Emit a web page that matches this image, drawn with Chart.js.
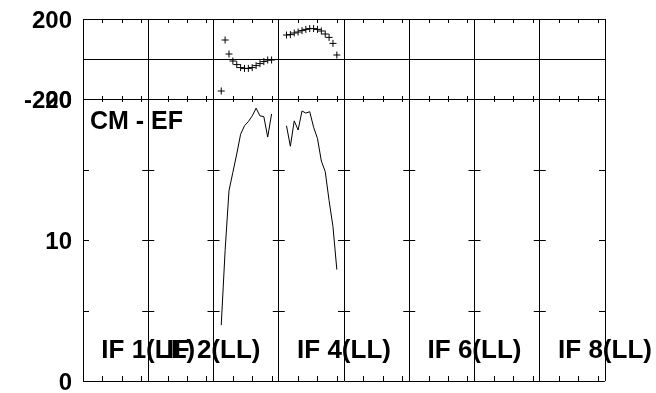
<!DOCTYPE html>
<html><head><meta charset="utf-8">
<script src="https://cdn.jsdelivr.net/npm/chart.js@4"></script>
<style>html,body{margin:0;padding:0;background:#fff}canvas{display:block}</style>
</head><body>
<canvas id="c" width="656" height="393"></canvas>
<script>
// ---- data ----
const numIFs = 8;
const chansPerIF = 16.85;
const channels = [2, 3, 4, 5, 6, 7, 8, 9, 10, 11, 12, 13, 14, 15];
const phaseIF3 = [-160, 95, 25, -10, -28, -43, -47, -47, -43, -33, -23, -13, -5, -5];
const phaseIF4 = [120, 122, 130, 135, 142, 148, 152, 152, 148, 140, 125, 108, 78, 20];
const ampIF3 = [3.96, 9.26, 13.5, 14.8, 16.1, 17.5, 18.1, 18.4, 18.8, 19.35, 18.8, 18.75, 17.3, 18.94];
const ampIF4 = [18.1, 16.65, 18.45, 17.8, 19.15, 19.0, 19.1, 18.0, 17.2, 15.6, 14.85, 12.8, 10.95, 7.9];
const ifLabels = ["IF 1(LL)", "IF 2(LL)", "IF 4(LL)", "IF 6(LL)", "IF 8(LL)"];
const ifLabelPos = [1, 2, 4, 6, 8];
const phaseTicks = [-200, 0, 200];
const phaseLabeled = [-200, 200];
const ampTicks = [0, 5, 10, 15, 20];
const ampLabeled = [0, 10, 20];
const chanTicks = [5, 10, 15];
const panelTitle = "CM - EF";

const FONT = '"Liberation Sans", Arial, Helvetica, sans-serif';
const toPts = (ifNum, vals) => vals.map((v, i) => ({x: (ifNum - 1) * chansPerIF + channels[i], y: v}));

const deco = {
  id: 'deco',
  afterDraw(chart) {
    const {ctx, chartArea: a, scales} = chart;
    const x = scales.x, yAmp = scales.yAmp;
    ctx.save();
    ctx.strokeStyle = '#000';
    ctx.lineWidth = 1;
    const seg = (x1, y1, x2, y2) => { ctx.beginPath(); ctx.moveTo(x1, y1); ctx.lineTo(x2, y2); ctx.stroke(); };
    const mid = Math.round(yAmp.top);
    for (let k = 0; k < numIFs; k++) {
      for (const t of chanTicks) {
        const px = Math.round(x.getPixelForValue(k * chansPerIF + t)) + 0.5;
        seg(px, a.top, px, a.top + 4);
        seg(px, mid - 3, px, mid + 3);
        seg(px, a.bottom - 5, px, a.bottom);
      }
    }
    for (const v of ampTicks) {
      if (v === yAmp.min || v === yAmp.max) continue;
      const py = Math.round(yAmp.getPixelForValue(v)) + 0.5;
      for (let k = 0; k <= numIFs; k++) {
        const px = x.getPixelForValue(k * chansPerIF);
        seg(Math.max(a.left, px - 6), py, Math.min(a.right, px + 6), py);
      }
    }
    ctx.fillStyle = '#000';
    ctx.font = 'bold 26px ' + FONT;
    ctx.textAlign = 'center';
    ctx.textBaseline = 'alphabetic';
    ifLabels.forEach((t, i) => ctx.fillText(t, x.getPixelForValue(ifLabelPos[i] * chansPerIF), a.bottom - 23));
    ctx.textAlign = 'left';
    ctx.font = 'bold 25px ' + FONT;
    ctx.fillText(panelTitle, a.left + 7, yAmp.top + 30);
    ctx.restore();
  }
};

const yCommon = (labeled) => ({
  type: 'linear',
  position: 'left',
  stack: 'panels',
  border: {display: true, color: '#000', width: 1},
  grid: {drawTicks: false, lineWidth: 1,
         color: c => (c.tick && (labeled.includes(c.tick.value) || c.tick.value === 0)) ? '#000' : 'rgba(0,0,0,0)'},
  ticks: {color: '#000', padding: 11, labelOffset: 2, autoSkip: false,
          font: {family: FONT, size: 24, weight: 'bold', lineHeight: 1},
          callback: v => labeled.includes(v) ? String(v) : ''},
  afterFit: s => { s.width = 83; s.paddingTop = 0; s.paddingBottom = 0; }
});

const yPhaseOpts = Object.assign(yCommon(phaseLabeled), {
  min: -200, max: 200, stackWeight: 80,
  afterBuildTicks: s => { s.ticks = phaseTicks.map(v => ({value: v})); }
});
const yAmpOpts = Object.assign(yCommon(ampLabeled), {
  min: 0, max: 20, stackWeight: 282,
  afterBuildTicks: s => { s.ticks = ampTicks.map(v => ({value: v})); }
});
yAmpOpts.grid.color = c => (c.tick && (c.tick.value === 0 || c.tick.value === 20)) ? '#000' : 'rgba(0,0,0,0)';

new Chart(document.getElementById('c'), {
  type: 'scatter',
  data: {
    datasets: [
      {data: toPts(3, phaseIF3), yAxisID: 'yPhase', showLine: false, pointStyle: 'cross', pointRadius: 3.5, borderColor: '#000', backgroundColor: '#000', borderWidth: 1},
      {data: toPts(4, phaseIF4), yAxisID: 'yPhase', showLine: false, pointStyle: 'cross', pointRadius: 3.5, borderColor: '#000', backgroundColor: '#000', borderWidth: 1},
      {data: toPts(3, ampIF3), yAxisID: 'yAmp', showLine: true, pointRadius: 0, borderColor: '#000', borderWidth: 1, tension: 0},
      {data: toPts(4, ampIF4), yAxisID: 'yAmp', showLine: true, pointRadius: 0, borderColor: '#000', borderWidth: 1, tension: 0}
    ]
  },
  options: {
    responsive: false,
    animation: false,
    devicePixelRatio: 1,
    layout: {padding: {top: 19, right: 51, bottom: 12, left: 0}},
    plugins: {legend: {display: false}, tooltip: {enabled: false}},
    scales: {
      x: {
        type: 'linear', min: 0, max: numIFs * chansPerIF,
        afterBuildTicks: s => { s.ticks = Array.from({length: numIFs + 1}, (_, i) => ({value: i * chansPerIF})); },
        grid: {color: '#000', lineWidth: 1, drawTicks: false},
        border: {display: false},
        ticks: {display: false},
        afterFit: s => { s.height = 0; s.paddingLeft = 0; s.paddingRight = 0; }
      },
      yAmp: yAmpOpts,
      yPhase: yPhaseOpts
    }
  },
  plugins: [deco]
});
</script>
</body></html>
